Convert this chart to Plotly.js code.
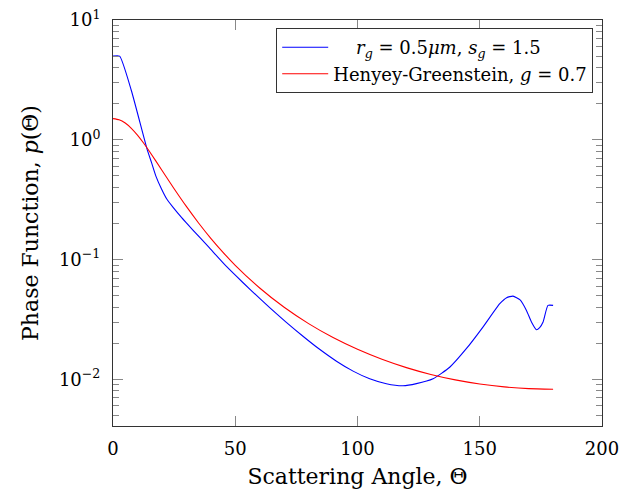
<!DOCTYPE html>
<html>
<head>
<meta charset="utf-8">
<script src="https://cdn.plot.ly/plotly-3.0.1.min.js"></script>
<style>html,body{margin:0;padding:0;background:#fff;}#chart{width:621px;height:489px;}</style>
</head>
<body>
<div id="chart"></div>
<script>
// Mie phase function (lognormal, r_g = 0.5 um, s_g = 1.5)
var thetaMie = [0, 2.7, 7.5, 13.9, 15.7, 17.5, 19.8, 22, 24.5, 28, 32.5, 39, 46.4, 53, 60, 64.2, 70.9, 77.7, 84.5, 91.4, 98.2, 105, 111.8, 118.6, 124.1, 130.9, 137.7, 144.5, 151.3, 158.2, 161, 163.6, 166.5, 169.1, 171.2, 173.2, 174.5, 175.9, 177.9, 180];
var pMie = [4.99, 4.99, 2.58, 0.84, 0.65, 0.50, 0.39, 0.32, 0.274, 0.225, 0.178, 0.128, 0.0875, 0.0646, 0.0473, 0.0395, 0.0299, 0.0229, 0.0178, 0.01416, 0.0117, 0.0101, 0.00918, 0.00883, 0.0092, 0.0101, 0.0126, 0.0180, 0.0273, 0.0428, 0.048, 0.0495, 0.046, 0.0376, 0.030, 0.0259, 0.027, 0.0301, 0.0414, 0.0414];

// Henyey-Greenstein, g = 0.7
var thetaHG = [0, 2.5, 5, 7.5, 10, 12.5, 15, 20, 25, 30, 35, 40, 45, 50, 60, 70, 80, 90, 100, 110, 120, 130, 140, 150, 160, 170, 180];
var pHG = [1.503, 1.470, 1.379, 1.246, 1.093, 0.939, 0.794, 0.557, 0.390, 0.2775, 0.202, 0.1504, 0.1148, 0.0895, 0.0578, 0.0399, 0.02915, 0.0223, 0.0178, 0.0147, 0.01252, 0.01098, 0.00989, 0.00914, 0.00864, 0.00835, 0.00826];

var xTicks = [0, 50, 100, 150, 200];
var yTicks = [0.01, 0.1, 1, 10];
var yTickText = ['10<sup>\u22122</sup>', '10<sup>\u22121</sup>', '10<sup>0</sup>', '10<sup>1</sup>'];

var legendMie = '\u00a0\u00a0\u00a0\u00a0<i>r</i><sub><i>g</i></sub> = 0.5<i>\u03bcm</i>, <i>s</i><sub><i>g</i></sub> = 1.5';
var legendHG = 'Henyey-Greenstein, <i>g</i> = 0.7';

var minorVals = [];
[0.001, 0.01, 0.1, 1].forEach(function (d) {
  for (var k = 2; k <= 9; k++) minorVals.push(k * d);
});

var FAM = 'DejaVu Serif';
function f(size) { return {family: FAM, size: size, color: '#000'}; }

var traces = [
  {x: thetaMie, y: pMie, mode: 'lines', name: legendMie,
   line: {color: '#0000ff', width: 1.1, shape: 'spline', smoothing: 0.5}},
  {x: thetaHG, y: pHG, mode: 'lines', name: legendHG,
   line: {color: '#ff0000', width: 1.1, shape: 'spline', smoothing: 0.6}}
];

var layout = {
  width: 621, height: 489,
  margin: {l: 113, r: 19, t: 20, b: 63},
  paper_bgcolor: '#fff', plot_bgcolor: '#fff',
  font: f(18),
  showlegend: true,
  legend: {x: 0.982, xanchor: 'right', y: 0.98, yanchor: 'top',
           bgcolor: '#fff', bordercolor: '#333', borderwidth: 1,
           font: f(18), tracegroupgap: 0, itemwidth: 46},
  xaxis: {
    range: [0, 200], tickmode: 'array', tickvals: xTicks,
    ticks: 'inside', ticklen: 10, tickcolor: '#888', tickwidth: 1,
    showline: true, linecolor: '#333', linewidth: 1, mirror: 'ticks',
    showgrid: false, zeroline: false,
    tickfont: f(18), ticklabelstandoff: 6,
    title: {text: 'Scattering Angle, \u0398', font: f(22), standoff: 12}
  },
  yaxis: {
    type: 'log', range: [-2.39, 1], tickmode: 'array', tickvals: yTicks, ticktext: yTickText,
    ticks: 'inside', ticklen: 10, tickcolor: '#888', tickwidth: 1,
    showline: true, linecolor: '#333', linewidth: 1, mirror: 'ticks',
    showgrid: false, zeroline: false,
    tickfont: f(18), ticklabelstandoff: 8,
    minor: {tickmode: 'array', tickvals: minorVals, ticks: 'inside', ticklen: 6, tickcolor: '#888', tickwidth: 1, showgrid: false},
    title: {text: 'Phase Function, <i>p</i>(\u0398)', font: f(22), standoff: 14}
  }
};

Plotly.newPlot('chart', traces, layout, {displayModeBar: false, staticPlot: true});
</script>
</body>
</html>
